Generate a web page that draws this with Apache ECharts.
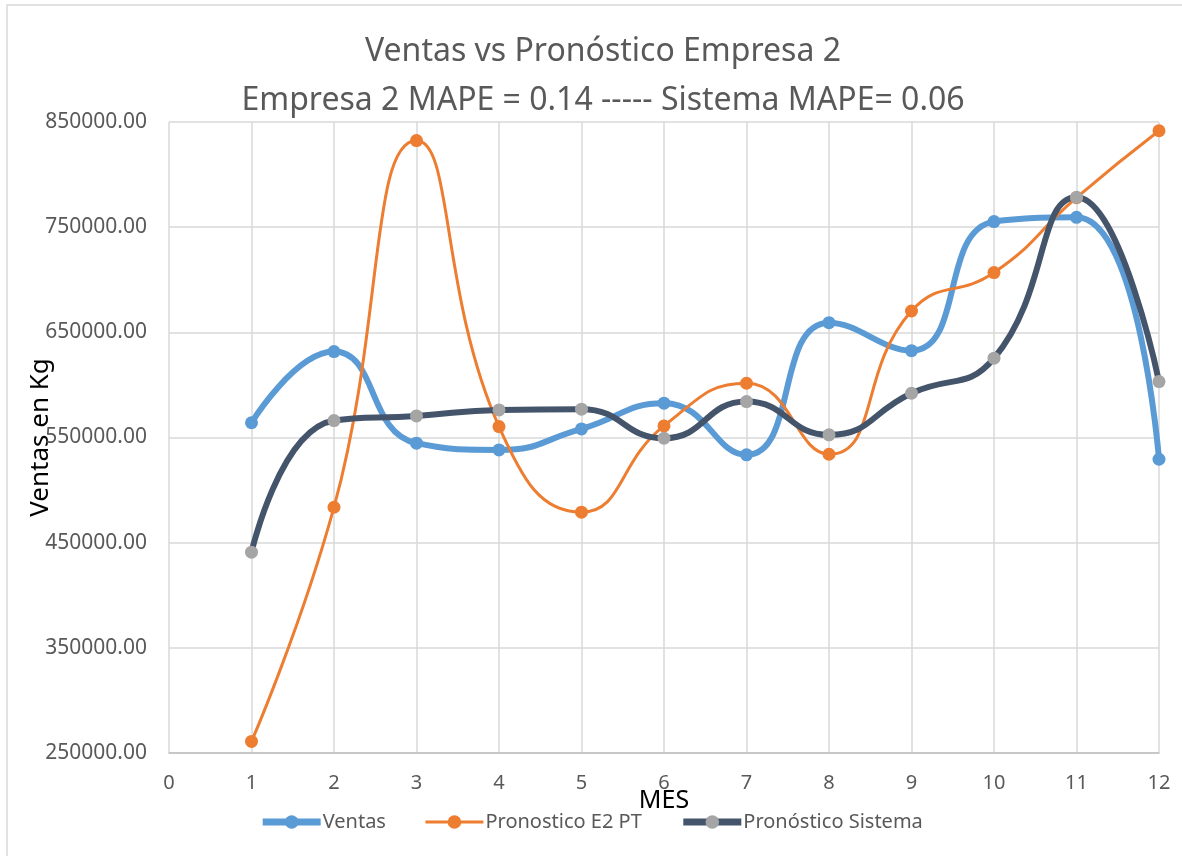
<!DOCTYPE html>
<html>
<head>
<meta charset="utf-8">
<script src="https://cdn.jsdelivr.net/npm/echarts@6/dist/echarts.min.js"></script>
<style>
html, body { margin: 0; padding: 0; background: #fff; }
#main { width: 1182px; height: 856px; }
</style>
</head>
<body>
<div id="main"></div>
<script>
var meses = [1, 2, 3, 4, 5, 6, 7, 8, 9, 10, 11, 12];
var ventas = [564000, 631700, 544600, 538200, 558200, 582600, 533500, 659200, 632600, 755300, 759400, 529300];
var pronosticoE2 = [261000, 483700, 832300, 560400, 479000, 561000, 601600, 534100, 670300, 706800, 778000, 841700];
var pronosticoSistema = [441000, 566100, 570500, 576200, 576900, 549300, 584200, 552500, 592100, 625400, 778400, 603200];

function pares(vals) {
    var out = [];
    for (var i = 0; i < meses.length; i++) {
        out.push([meses[i], vals[i]]);
    }
    return out;
}

var fuente = 'Noto Sans';
var myChart = echarts.init(document.getElementById('main'));
var option = {
    backgroundColor: '#fff',
    textStyle: { fontFamily: fuente },
    graphic: [{
        type: 'rect',
        shape: { x: 7, y: 5, width: 1200, height: 900 },
        style: { fill: 'none', stroke: '#D9D9D9', lineWidth: 1.5 },
        silent: true
    }],
    title: {
        text: 'Ventas vs Pronóstico Empresa 2\nEmpresa 2 MAPE = 0.14 ----- Sistema MAPE= 0.06',
        left: 598,
        textAlign: 'center',
        top: 22,
        textStyle: {
            fontFamily: fuente,
            fontSize: 32,
            fontWeight: 'normal',
            color: '#595959',
            lineHeight: 49
        }
    },
    legend: {
        bottom: 19,
        left: 'center',
        itemWidth: 58,
        itemHeight: 17,
        itemGap: 38,
        textStyle: { fontFamily: fuente, fontSize: 20, color: '#595959', padding: [0, 0, 0, -3] },
        data: [
            { name: 'Ventas', lineStyle: { width: 7 } },
            { name: 'Pronostico E2 PT', lineStyle: { width: 3 } },
            { name: 'Pronóstico Sistema', lineStyle: { width: 7 } }
        ]
    },
    grid: {
        left: 169,
        right: 23,
        top: 122,
        bottom: 103,
        containLabel: false
    },
    xAxis: {
        type: 'value',
        min: 0,
        max: 12,
        interval: 1,
        name: 'MES',
        nameLocation: 'middle',
        nameGap: 35,
        nameMoveOverlap: false,
        nameTextStyle: { fontFamily: fuente, fontSize: 25, color: '#000' },
        axisLine: { show: true, lineStyle: { color: '#BFBFBF', width: 1.5 } },
        axisTick: { show: false },
        axisLabel: { fontFamily: fuente, fontSize: 20, color: '#595959', margin: 20 },
        splitLine: { show: true, lineStyle: { color: '#D9D9D9', width: 1.5 } }
    },
    yAxis: {
        type: 'value',
        min: 250000,
        max: 850000,
        interval: 50000,
        name: 'Ventas en Kg',
        nameLocation: 'middle',
        nameGap: 115,
        nameMoveOverlap: false,
        nameTextStyle: { fontFamily: fuente, fontSize: 26, color: '#000' },
        axisLine: { show: false },
        axisTick: { show: false },
        axisLabel: {
            fontFamily: fuente,
            fontSize: 21,
            color: '#595959',
            margin: 22,
            formatter: function (v) {
                return ((v - 250000) % 100000 === 0) ? v.toFixed(2) : '';
            }
        },
        splitLine: { show: true, lineStyle: { color: ['#D9D9D9', 'rgba(0,0,0,0)'], width: 1.5 } }
    },
    series: [
        {
            name: 'Ventas',
            type: 'line',
            smooth: 0.5,
            symbol: 'circle',
            symbolSize: 13,
            lineStyle: { color: '#5B9BD5', width: 6 },
            itemStyle: { color: '#5B9BD5' },
            data: pares(ventas)
        },
        {
            name: 'Pronostico E2 PT',
            type: 'line',
            smooth: 0.5,
            symbol: 'circle',
            symbolSize: 13,
            lineStyle: { color: '#ED7D31', width: 3 },
            itemStyle: { color: '#ED7D31' },
            data: pares(pronosticoE2)
        },
        {
            name: 'Pronóstico Sistema',
            type: 'line',
            smooth: 0.5,
            symbol: 'circle',
            symbolSize: 13,
            lineStyle: { color: '#44546A', width: 6 },
            itemStyle: { color: '#A5A5A5' },
            data: pares(pronosticoSistema)
        }
    ]
};
myChart.setOption(option);
</script>
</body>
</html>
